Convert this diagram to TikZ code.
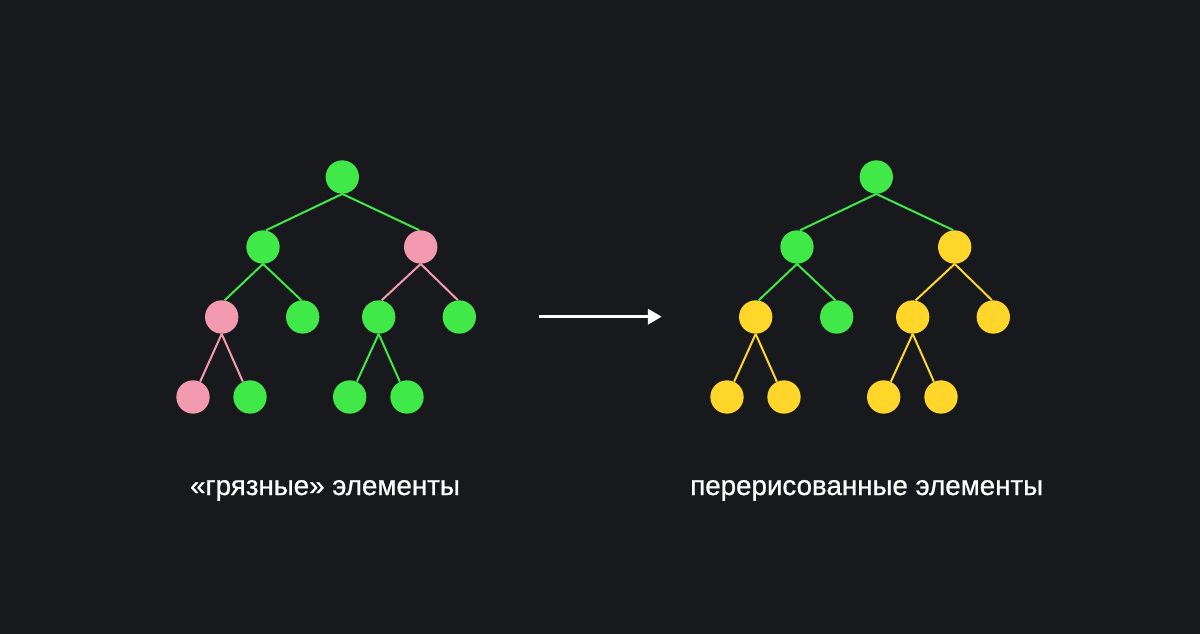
\documentclass[tikz,border=0pt]{standalone}
\usepackage{fontspec}
\setmainfont{Liberation Sans}[FakeBold=0.8]
\usetikzlibrary{arrows.meta}
\definecolor{bg}{RGB}{24,25,29}
\definecolor{gr}{RGB}{64,233,72}
\definecolor{pk}{RGB}{244,154,176}
\definecolor{yl}{RGB}{255,214,41}
\tikzset{
  vtx/.style={circle, fill=#1, draw=none, inner sep=0pt, minimum size=25pt},
  edg/.style={draw=#1, line width=1.5pt},
  lbl/.style={text=white, anchor=base, font=\fontsize{20.8}{24}\selectfont, inner sep=0pt}
}
\begin{document}
\begin{tikzpicture}[x=0.75pt,y=-0.75pt]
\fill[bg] (0,0) rectangle (1200,634);
\useasboundingbox (0,0) rectangle (1200,634);
% left tree
\node[vtx=gr] (Lr) at (342.3,177) {};
\node[vtx=gr] (La) at (263,247) {};
\node[vtx=pk] (Lb) at (420.7,247) {};
\node[vtx=pk] (Lc) at (221.7,317) {};
\node[vtx=gr] (Ld) at (302.7,317) {};
\node[vtx=gr] (Le) at (378.7,317) {};
\node[vtx=gr] (Lf) at (459.3,317) {};
\node[vtx=pk] (Lg) at (193,397) {};
\node[vtx=gr] (Lh) at (250,397) {};
\node[vtx=gr] (Li) at (349.7,397) {};
\node[vtx=gr] (Lj) at (407,397) {};
\draw[edg=gr] (Lr.south) -- (La.80);
\draw[edg=gr] (Lr.south) -- (Lb.95);
\draw[edg=gr] (La.south) -- (Lc.80);
\draw[edg=gr] (La.south) -- (Ld.95);
\draw[edg=pk] (Lb.south) -- (Le.80);
\draw[edg=pk] (Lb.south) -- (Lf.95);
\draw[edg=pk] (Lc.south) -- (Lg.65);
\draw[edg=pk] (Lc.south) -- (Lh.115);
\draw[edg=gr] (Le.south) -- (Li.65);
\draw[edg=gr] (Le.south) -- (Lj.115);
% right tree
\node[vtx=gr] (Rr) at (876.3,177) {};
\node[vtx=gr] (Ra) at (797,247) {};
\node[vtx=yl] (Rb) at (954.7,247) {};
\node[vtx=yl] (Rc) at (755.7,317) {};
\node[vtx=gr] (Rd) at (836.7,317) {};
\node[vtx=yl] (Re) at (912.7,317) {};
\node[vtx=yl] (Rf) at (993.3,317) {};
\node[vtx=yl] (Rg) at (727,397) {};
\node[vtx=yl] (Rh) at (784,397) {};
\node[vtx=yl] (Ri) at (883.7,397) {};
\node[vtx=yl] (Rj) at (941,397) {};
\draw[edg=gr] (Rr.south) -- (Ra.80);
\draw[edg=gr] (Rr.south) -- (Rb.95);
\draw[edg=gr] (Ra.south) -- (Rc.80);
\draw[edg=gr] (Ra.south) -- (Rd.95);
\draw[edg=yl] (Rb.south) -- (Re.80);
\draw[edg=yl] (Rb.south) -- (Rf.95);
\draw[edg=yl] (Rc.south) -- (Rg.65);
\draw[edg=yl] (Rc.south) -- (Rh.115);
\draw[edg=yl] (Re.south) -- (Ri.65);
\draw[edg=yl] (Re.south) -- (Rj.115);
% arrow
\coordinate (A0) at (539.3,316.7);
\coordinate (A1) at (661.7,316.7);
\draw[white, line width=2pt, -{Triangle[length=10.3pt,width=11.3pt]}] (A0) -- (A1);
% labels
\node[lbl] (t1) at (325,495) {«грязные» элементы};
\node[lbl] (t2) at (866.7,495) {перерисованные элементы};
\end{tikzpicture}
\end{document}
